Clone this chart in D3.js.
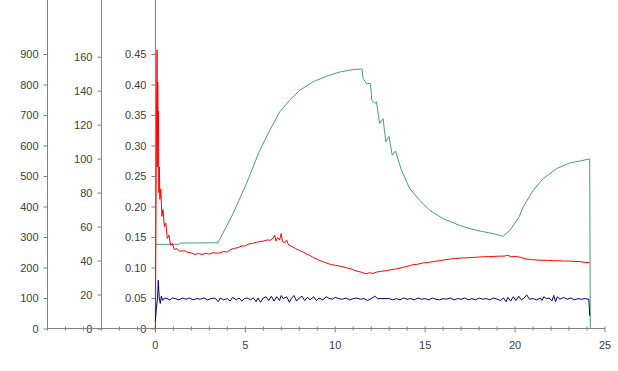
<!DOCTYPE html>
<html lang="en">
<head>
  <meta charset="utf-8">
  <title>Three-axis time series</title>
  <script src="https://d3js.org/d3.v7.min.js"></script>
  <style>
    body { margin: 0; background: #fff; }
    svg text { font-family: Arial, "Liberation Sans", sans-serif; font-size: 11px; fill: #404040; }
    .axis path, .axis line { stroke: #808080; }
  </style>
</head>
<body>
  <svg width="618" height="371"></svg>
  <script>
    // tick labels
    var ticksA = [0, 100, 200, 300, 400, 500, 600, 700, 800, 900];
    var ticksB = [0, 20, 40, 60, 80, 100, 120, 140, 160];
    var ticksC = [0, 0.05, 0.10, 0.15, 0.20, 0.25, 0.30, 0.35, 0.40, 0.45];
    var ticksX = [0, 5, 10, 15, 20, 25];

    // green series (left axis 0-900)
    var green = [
      [0, 276], [1.3, 276], [1.4, 280], [3.48, 281], [4.32, 377], [5.06, 475], [5.8, 584],
      [6.36, 650], [6.91, 710], [7.47, 749], [8.03, 781], [8.77, 809], [9.51, 827],
      [10.25, 841], [10.99, 849], [11.49, 851], [11.55, 820], [11.74, 803], [11.96, 803],
      [12.03, 749], [12.2, 738], [12.29, 743], [12.47, 672], [12.66, 688], [12.81, 612],
      [12.99, 630], [13.17, 568], [13.35, 582], [13.68, 519], [14.14, 459], [14.7, 420],
      [15.26, 387], [16.0, 360], [16.92, 338], [17.84, 322], [18.78, 311], [19.33, 302],
      [19.71, 322], [20.22, 365], [20.45, 398], [21.0, 453], [21.56, 491], [22.3, 524],
      [23.04, 543], [23.6, 549], [24.06, 555], [24.15, 556], [24.18, 0]
    ];

    // red series (middle axis 0-160)
    var red = [
      [0, 0], [0.03, 60], [0.06, 120], [0.09, 164], [0.11, 95], [0.13, 145], [0.15, 110],
      [0.17, 128], [0.19, 80], [0.22, 95], [0.25, 76], [0.3, 82], [0.36, 66], [0.42, 70],
      [0.5, 60], [0.58, 62], [0.66, 53], [0.75, 55], [0.85, 49], [0.95, 50], [1.05, 46.5],
      [1.2, 47], [1.35, 45.4], [1.6, 45.8], [1.8, 44.8], [2.0, 44.5], [2.2, 43.6], [2.4, 44.2],
      [2.6, 43.5], [2.8, 44.3], [3.0, 43.8], [3.2, 44.6], [3.5, 44.3], [3.8, 45.3], [4.0, 45.0],
      [4.2, 46.6], [4.4, 47.2], [4.6, 47.6], [4.8, 48.6], [5.0, 48.6], [5.2, 49.8], [5.4, 50.1],
      [5.6, 50.7], [5.8, 51.2], [6.0, 51.4], [6.2, 52.1], [6.4, 52.0], [6.55, 53.2], [6.63, 55.0],
      [6.7, 51.5], [6.8, 53.5], [6.9, 52.0], [7.0, 56.0], [7.06, 51.0], [7.2, 50.6], [7.3, 52.0],
      [7.4, 49.3], [7.6, 48.2], [7.8, 47.0], [8.0, 46.0], [8.2, 45.1], [8.4, 43.8], [8.6, 43.0],
      [8.8, 41.6], [9.0, 40.8], [9.2, 39.7], [9.4, 39.0], [9.6, 38.2], [9.8, 37.6], [10.0, 37.2],
      [10.3, 36.6], [10.6, 35.8], [10.9, 35.0], [11.2, 33.8], [11.5, 33.0], [11.7, 32.2],
      [11.9, 32.8], [12.1, 32.4], [12.3, 33.2], [12.5, 33.6], [12.8, 34.0], [13.1, 34.6],
      [13.4, 35.1], [13.7, 35.8], [14.0, 36.6], [14.3, 37.5], [14.6, 37.9], [14.9, 38.6],
      [15.2, 39.0], [15.5, 39.4], [15.8, 40.0], [16.1, 40.4], [16.4, 40.9], [16.7, 41.2],
      [17.0, 41.5], [17.3, 41.6], [17.6, 41.8], [17.9, 42.0], [18.2, 42.2], [18.5, 42.3],
      [18.8, 42.4], [19.1, 42.6], [19.4, 42.6], [19.6, 43.1], [19.8, 42.2], [20.0, 42.5],
      [20.3, 41.9], [20.6, 40.9], [20.9, 40.6], [21.2, 40.3], [21.5, 40.2], [21.8, 40.1],
      [22.1, 39.9], [22.4, 39.9], [22.7, 39.7], [23.0, 39.7], [23.3, 39.5], [23.6, 39.4],
      [23.9, 38.9], [24.15, 38.7]
    ];

    // blue series (right axis 0-0.45)
    var blue = [
      [0, 0.012], [0.06, 0.035], [0.12, 0.05], [0.16, 0.079], [0.21, 0.052], [0.27, 0.041],
      [0.33, 0.053], [0.4, 0.046], [0.5, 0.05], [0.65, 0.049], [0.8, 0.047], [0.95, 0.05],
      [1.1, 0.049], [1.3, 0.047], [1.5, 0.05], [1.7, 0.048], [1.9, 0.05], [2.1, 0.047],
      [2.3, 0.049], [2.5, 0.048], [2.7, 0.05], [2.9, 0.047], [3.1, 0.049], [3.3, 0.05],
      [3.5, 0.044], [3.6, 0.05], [3.8, 0.047], [4.0, 0.049], [4.15, 0.045], [4.3, 0.051],
      [4.5, 0.047], [4.65, 0.05], [4.8, 0.045], [4.95, 0.049], [5.1, 0.05], [5.3, 0.047],
      [5.45, 0.05], [5.6, 0.044], [5.7, 0.05], [5.85, 0.043], [6.0, 0.05], [6.15, 0.052],
      [6.3, 0.046], [6.45, 0.053], [6.6, 0.045], [6.75, 0.052], [6.9, 0.046], [7.0, 0.054],
      [7.1, 0.049], [7.3, 0.052], [7.45, 0.043], [7.55, 0.049], [7.7, 0.054], [7.85, 0.045],
      [8.0, 0.05], [8.15, 0.053], [8.3, 0.046], [8.45, 0.051], [8.6, 0.047], [8.8, 0.052],
      [8.95, 0.046], [9.1, 0.05], [9.3, 0.047], [9.5, 0.052], [9.7, 0.049], [9.85, 0.048],
      [10.0, 0.051], [10.2, 0.049], [10.4, 0.048], [10.6, 0.05], [10.8, 0.047], [11.0, 0.049],
      [11.2, 0.05], [11.4, 0.048], [11.6, 0.049], [11.8, 0.046], [12.0, 0.049], [12.2, 0.053],
      [12.35, 0.049], [12.6, 0.049], [13.0, 0.049], [13.2, 0.047], [13.4, 0.049], [13.6, 0.047],
      [13.8, 0.05], [14.0, 0.048], [14.2, 0.049], [14.4, 0.047], [14.6, 0.05], [14.8, 0.048],
      [15.0, 0.049], [15.2, 0.047], [15.4, 0.05], [15.6, 0.048], [15.8, 0.047], [16.0, 0.049],
      [16.2, 0.048], [16.4, 0.05], [16.6, 0.047], [16.8, 0.049], [17.0, 0.048], [17.2, 0.05],
      [17.4, 0.047], [17.6, 0.049], [17.8, 0.047], [18.0, 0.05], [18.2, 0.048], [18.4, 0.049],
      [18.6, 0.047], [18.8, 0.05], [19.0, 0.048], [19.2, 0.046], [19.35, 0.05], [19.5, 0.044],
      [19.6, 0.051], [19.75, 0.045], [19.9, 0.052], [20.05, 0.046], [20.2, 0.053], [20.35, 0.047],
      [20.5, 0.05], [20.65, 0.055], [20.8, 0.048], [21.0, 0.049], [21.2, 0.047], [21.4, 0.05],
      [21.5, 0.046], [21.6, 0.052], [21.75, 0.049], [21.9, 0.05], [22.05, 0.045], [22.15, 0.054],
      [22.25, 0.044], [22.35, 0.052], [22.5, 0.048], [22.7, 0.051], [22.9, 0.048], [23.1, 0.05],
      [23.3, 0.047], [23.5, 0.049], [23.7, 0.048], [23.9, 0.049], [24.1, 0.048], [24.15, 0.021]
    ];

    var svg = d3.select("svg");
    var base = 328.5;

    // x runs from -6 so the two extra value axes sit left of zero
    var x = d3.scaleLinear().domain([-6, 25]).range([47.5, 605]);
    var yA = d3.scaleLinear().domain([0, 900]).range([base, 54]);
    var yB = d3.scaleLinear().domain([0, 160]).range([base, 56.7]);
    var yC = d3.scaleLinear().domain([0, 0.45]).range([base, 54]);

    function fmtC(d) { return d === 0 ? "0" : d3.format(".2f")(d); }

    function yAxis(pos, scale, vals, fmt) {
      var g = svg.append("g")
        .attr("class", "axis")
        .attr("transform", "translate(" + x(pos) + ",0)")
        .call(d3.axisLeft(scale).tickValues(vals).tickFormat(fmt).tickSize(4).tickPadding(5));
      g.select(".domain").remove();
      g.append("line")
        .attr("x1", 0).attr("x2", 0).attr("y1", 0).attr("y2", base)
        .attr("stroke", "#808080");
      g.selectAll("text").attr("fill", null);
    }

    yAxis(-6, yA, ticksA, d3.format("d"));
    yAxis(-3, yB, ticksB, d3.format("d"));
    yAxis(0, yC, ticksC, fmtC);

    // x axis: minor ticks every unit, labels every 5
    var gx = svg.append("g")
      .attr("class", "axis")
      .attr("transform", "translate(0," + base + ")");
    gx.append("line")
      .attr("x1", x(-6)).attr("x2", x(25))
      .attr("stroke", "#808080");
    gx.selectAll(".minor")
      .data(d3.range(-6, 26))
      .enter().append("line")
      .attr("x1", function (d) { return x(d); })
      .attr("x2", function (d) { return x(d); })
      .attr("y1", -2)
      .attr("y2", function (d) { return d >= 0 && d % 5 === 0 ? 4 : 2; })
      .attr("stroke", "#808080");
    gx.selectAll("text")
      .data(ticksX)
      .enter().append("text")
      .attr("x", function (d) { return x(d); })
      .attr("y", 20)
      .attr("text-anchor", "middle")
      .text(function (d) { return d; });

    function drawLine(data, scale, color) {
      svg.append("path")
        .datum(data)
        .attr("fill", "none")
        .attr("stroke", color)
        .attr("stroke-width", 1)
        .attr("d", d3.line()
          .x(function (d) { return x(d[0]); })
          .y(function (d) { return scale(d[1]); }));
    }

    drawLine(green, yA, "#46a07c");
    drawLine(red, yB, "#ff0000");
    drawLine(blue, yC, "#000080");
  </script>
</body>
</html>
